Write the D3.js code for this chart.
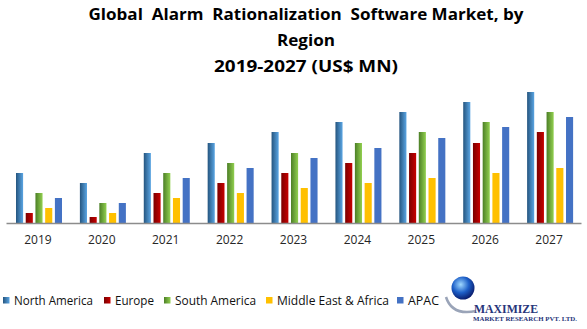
<!doctype html>
<html lang="en">
  <head>
    <meta charset="UTF-8" />
    <title>Global Alarm Rationalization Software Market</title>
    <script src="https://d3js.org/d3.v7.min.js"></script>
    <style>
      body {
        margin: 0;
        padding: 0;
        background: #fff;
        font-family: 'Open Sans', Arial, sans-serif;
      }
      .tick text {
        font-size: 12px;
        fill: #262626;
      }
    </style>
  </head>
  <body>
    <svg id="chart" width="587" height="329"></svg>

    <script>
      const years = ['2019', '2020', '2021', '2022', '2023', '2024', '2025', '2026', '2027'];
      const regions = ['North America', 'Europe', 'South America', 'Middle East & Africa', 'APAC'];

      const northAmerica = [50, 40, 70, 80, 91, 101, 111, 121, 131];
      const europe = [10, 6, 30, 40, 50, 60, 70, 80, 91];
      const southAmerica = [30, 20, 50, 60, 70, 80, 91, 101, 111];
      const middleEastAfrica = [15, 10, 25, 30, 35, 40, 45, 50, 55];
      const apac = [25, 20, 45, 55, 65, 75, 85, 96, 106];

      const seriesValues = [northAmerica, europe, southAmerica, middleEastAfrica, apac];

      const titleLines = [
        'Global  Alarm  Rationalization  Software Market, by',
        'Region',
        '2019-2027 (US$ MN)',
      ];

      const svg = d3.select('#chart');
      const defs = svg.append('defs');

      // colour ramps, left -> right, like the reference bars
      const fills = [
        ['#25557f', '#5aa5e3'],
        ['#7a0000', '#c80000'],
        ['#4c7f26', '#92d050'],
        ['#ffc000', '#ffc000'],
        ['#4472c4', '#4472c4'],
      ];
      fills.forEach(function (f, i) {
        const g = defs
          .append('linearGradient')
          .attr('id', 'grad' + i)
          .attr('x1', '0%')
          .attr('x2', '100%')
          .attr('y1', '0%')
          .attr('y2', '0%');
        g.append('stop').attr('offset', '0%').attr('stop-color', f[0]);
        g.append('stop').attr('offset', '100%').attr('stop-color', f[1]);
      });

      const baseY = 223;
      const x = d3.scaleBand().domain(years).range([6, 581]).paddingInner(0).paddingOuter(0);
      const inner = d3.scaleBand().domain(d3.range(regions.length)).range([10, 56]).paddingInner(0.27);
      const y = d3.scaleLinear().domain([0, 140]).range([baseY, baseY - 140]);

      // title (widths)
      const titleWidth = [435, 58, 184];
      svg
        .append('g')
        .selectAll('text')
        .data(titleLines)
        .enter()
        .append('text')
        .attr('x', function (d, i) {
          return 306 - titleWidth[i] / 2;
        })
        .attr('y', function (d, i) {
          return 20 + i * 26;
        })
        .attr('textLength', function (d, i) {
          return titleWidth[i];
        })
        .attr('lengthAdjust', 'spacingAndGlyphs')
        .style('white-space', 'pre')
        .style('font-size', '16.5px')
        .style('font-weight', 'bold')
        .style('fill', '#000')
        .text(function (d) {
          return d;
        });

      // bars
      const groups = svg
        .append('g')
        .selectAll('g')
        .data(years)
        .enter()
        .append('g')
        .attr('transform', function (d) {
          return 'translate(' + x(d) + ',0)';
        });

      groups
        .selectAll('rect')
        .data(function (d, yi) {
          return seriesValues.map(function (s, si) {
            return { si: si, v: s[yi] };
          });
        })
        .enter()
        .append('rect')
        .attr('x', function (d) {
          return inner(d.si);
        })
        .attr('width', inner.bandwidth())
        .attr('y', function (d) {
          return y(d.v);
        })
        .attr('height', function (d) {
          return baseY - y(d.v);
        })
        .attr('fill', function (d) {
          return 'url(#grad' + d.si + ')';
        });

      // x axis
      const axis = svg
        .append('g')
        .attr('transform', 'translate(0,' + baseY + ')')
        .call(d3.axisBottom(x).tickSize(0).tickPadding(12));
      axis.select('.domain').attr('stroke', '#8c8c8c').attr('stroke-width', 1.5);
      axis
        .selectAll('.tick text')
        .style('font-family', "'Open Sans', Arial, sans-serif")
        .style('font-size', '12px');

      // legend
      const legendX = [3, 104, 164, 266, 397];
      const legendW = [79, 39, 81, 112, 31];
      const legend = svg
        .append('g')
        .selectAll('g')
        .data(regions)
        .enter()
        .append('g')
        .attr('transform', function (d, i) {
          return 'translate(' + legendX[i] + ',297)';
        });
      legend
        .append('rect')
        .attr('width', 6.5)
        .attr('height', 6.5)
        .attr('fill', function (d, i) {
          return 'url(#grad' + i + ')';
        });
      legend
        .append('text')
        .attr('x', 11)
        .attr('y', 7.5)
        .attr('textLength', function (d, i) {
          return legendW[i];
        })
        .attr('lengthAdjust', 'spacingAndGlyphs')
        .style('font-size', '12.5px')
        .style('fill', '#111')
        .text(function (d) {
          return d;
        });

      // logo
      const globe = defs
        .append('radialGradient')
        .attr('id', 'globe')
        .attr('cx', '40%')
        .attr('cy', '35%')
        .attr('r', '65%');
      globe.append('stop').attr('offset', '0%').attr('stop-color', '#9fd8ff');
      globe.append('stop').attr('offset', '55%').attr('stop-color', '#1d5fc8');
      globe.append('stop').attr('offset', '100%').attr('stop-color', '#0a1f70');

      const logo = svg.append('g');
      logo
        .append('path')
        .attr('d', 'M446,297 Q452,316 476,311')
        .attr('fill', 'none')
        .attr('stroke', '#9aa4b8')
        .attr('stroke-width', 2.5);
      logo.append('circle').attr('cx', 463).attr('cy', 288).attr('r', 11.5).attr('fill', 'url(#globe)');
      logo
        .append('text')
        .attr('x', 474)
        .attr('y', 313)
        .attr('textLength', 64)
        .attr('lengthAdjust', 'spacingAndGlyphs')
        .style('font-family', "'Liberation Serif', serif")
        .style('font-size', '13px')
        .style('font-weight', 'bold')
        .style('fill', '#27357a')
        .text('MAXIMIZE');
      logo
        .append('text')
        .attr('x', 473)
        .attr('y', 321)
        .attr('textLength', 104)
        .attr('lengthAdjust', 'spacingAndGlyphs')
        .style('font-family', "'Liberation Serif', serif")
        .style('font-size', '7px')
        .style('font-weight', 'bold')
        .style('fill', '#27357a')
        .text('MARKET RESEARCH PVT. LTD.');
    </script>
  </body>
</html>
